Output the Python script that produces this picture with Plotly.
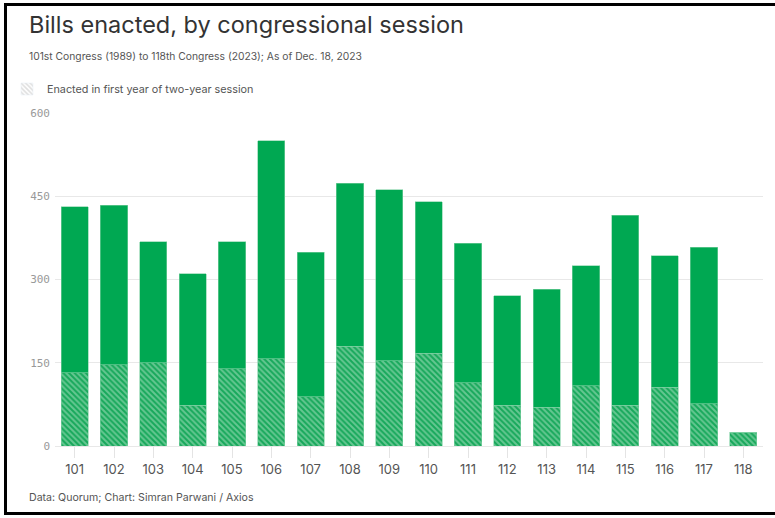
import plotly.graph_objects as go

congresses = ["101", "102", "103", "104", "105", "106", "107", "108", "109",
              "110", "111", "112", "113", "114", "115", "116", "117", "118"]
first_year = [132, 146, 150, 73, 139, 157, 89, 180, 154,
              167, 114, 73, 70, 109, 73, 106, 76, 25]
second_year = [299, 288, 218, 237, 229, 393, 260, 293, 308,
               273, 251, 198, 212, 216, 343, 237, 282, 0]
y_ticks = [0, 150, 300, 450, 600]

W, H = 775, 518
L, R, T, B = 55, 12, 113, 72
PW, PH = W - L - R, H - T - B

def px(x):
    return (x - L) / PW

def py(y):
    return (H - B - y) / PH

GREEN = "#00a852"
FONT = "Inter, 'Open Sans', sans-serif"

fig = go.Figure()
fig.add_trace(go.Bar(
    x=congresses, y=first_year, name="first",
    marker=dict(color="#35b56f",
                pattern=dict(shape="\\", fgcolor="#b3e5c8", bgcolor="#17a85b",
                             size=4, solidity=0.5),
                line=dict(width=0.6, color="#7fd1a3")),
    showlegend=False, hoverinfo="skip"))
fig.add_trace(go.Bar(
    x=congresses, y=second_year, name="second",
    marker=dict(color=GREEN, line=dict(width=0.6, color="#7fd1a3")),
    showlegend=False, hoverinfo="skip"))
fig.add_trace(go.Bar(
    x=[None], y=[None], name="Enacted in first year of two-year session",
    marker=dict(color="#ffffff",
                pattern=dict(shape="\\", fgcolor="#bdbdbd", bgcolor="#ffffff",
                             size=4, solidity=0.5)),
    showlegend=True))

fig.update_layout(
    width=W, height=H,
    margin=dict(l=L, r=R, t=T, b=B, autoexpand=False),
    barmode="stack", bargap=0.31,
    plot_bgcolor="white", paper_bgcolor="white",
    font=dict(family=FONT, color="#555555"),
    showlegend=True,
    legend=dict(xref="container", yref="container",
                x=7 / W, y=1 - 89 / H, xanchor="left", yanchor="middle",
                orientation="h", bgcolor="rgba(0,0,0,0)",
                font=dict(size=10.8, color="#555555", family=FONT),
                itemwidth=30),
    xaxis=dict(type="category", showgrid=False, ticks="outside", ticklen=11,
               tickcolor="#e4e4e4", tickwidth=1,
               tickfont=dict(size=13, color="#555555", family=FONT),
               showline=True, linecolor="#e8e8e8", linewidth=1,
               fixedrange=True),
    yaxis=dict(range=[0, 600], tickvals=y_ticks,
               ticktext=[str(v) for v in y_ticks],
               showgrid=True, gridcolor="#e8e8e8", gridwidth=1,
               zeroline=False, ticks="", ticklabelstandoff=4,
               tickfont=dict(size=11, color="#999999", family="'DejaVu Sans Mono', monospace"),
               fixedrange=True),
    annotations=[
        dict(text="Bills enacted, by congressional session", xref="paper", yref="paper",
             x=px(27), y=py(25), xanchor="left", yanchor="middle", showarrow=False,
             font=dict(size=23.5, color="#333333", family=FONT)),
        dict(text="101st Congress (1989) to 118th Congress (2023); As of Dec. 18, 2023",
             xref="paper", yref="paper", x=px(27), y=py(55.5), xanchor="left",
             yanchor="middle", showarrow=False,
             font=dict(size=10.3, color="#555555", family=FONT)),
        dict(text="Data: Quorum; Chart: Simran Parwani / Axios",
             xref="paper", yref="paper", x=px(27), y=py(497), xanchor="left",
             yanchor="middle", showarrow=False,
             font=dict(size=10.6, color="#555555", family=FONT)),
    ],
    shapes=[
        dict(type="rect", xref="paper", yref="paper",
             x0=px(5.5), x1=px(790), y0=py(513.5), y1=py(4.5),
             line=dict(color="black", width=3), fillcolor="rgba(0,0,0,0)",
             layer="above"),
    ],
)

fig.write_html("out.html")
